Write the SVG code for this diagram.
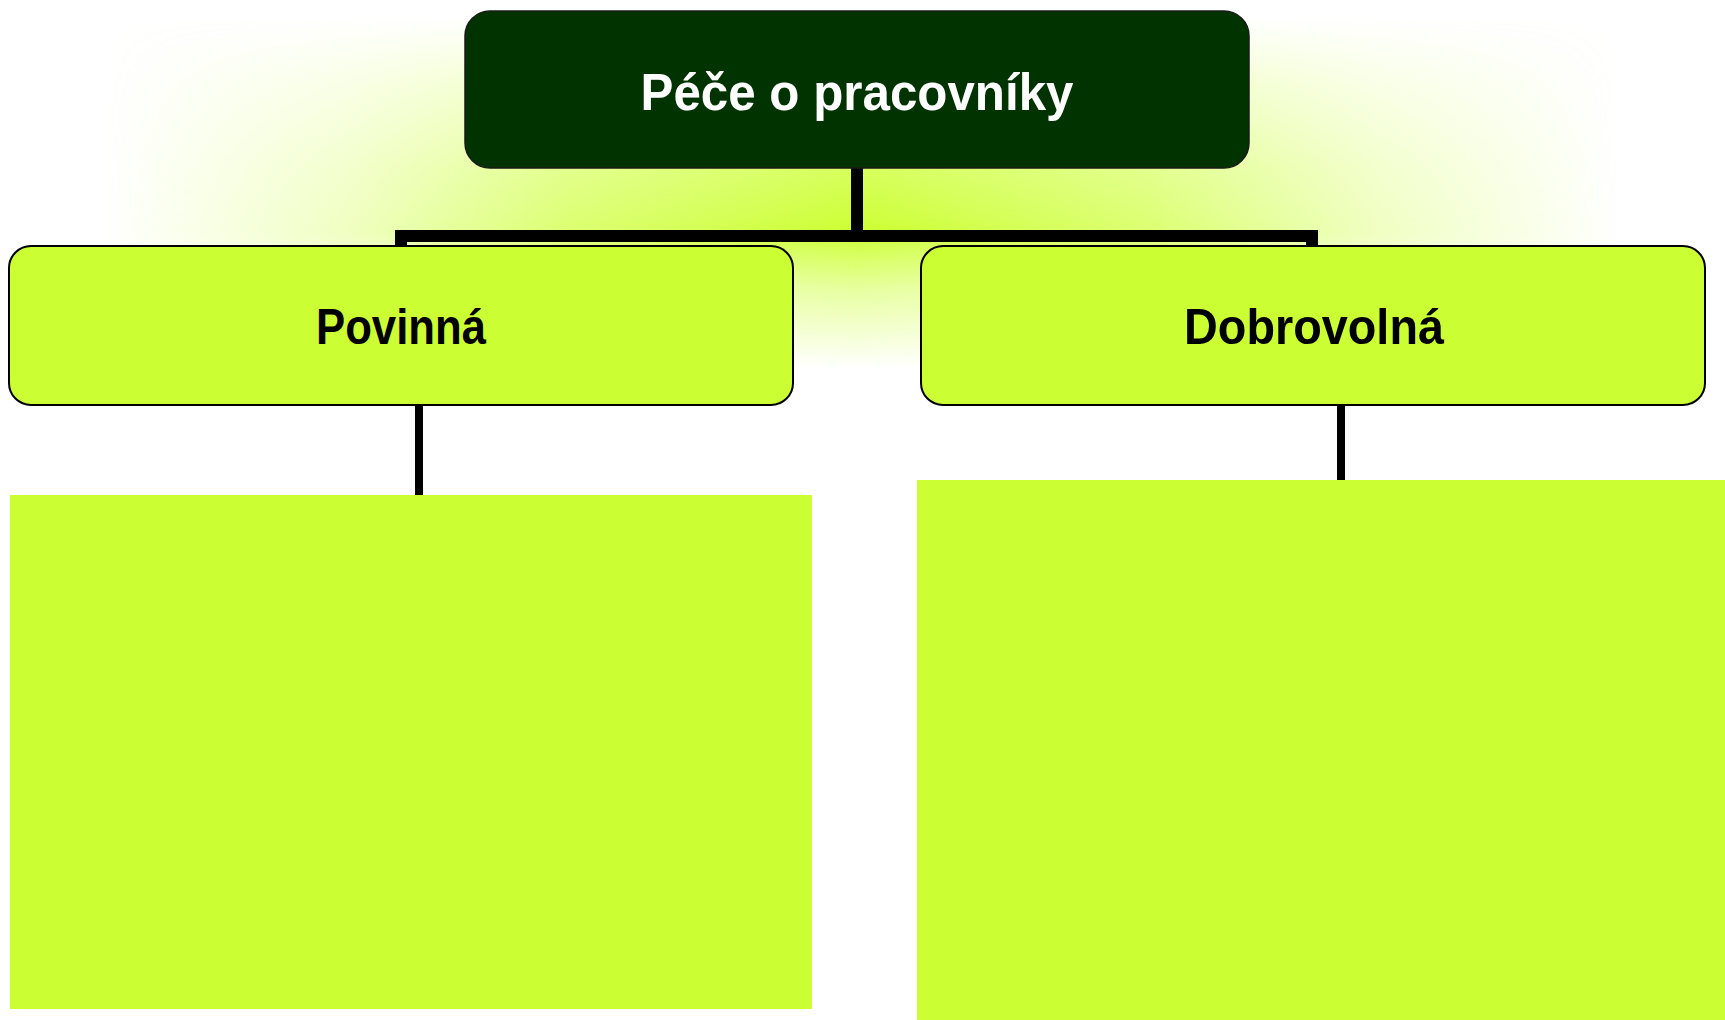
<svg xmlns="http://www.w3.org/2000/svg" width="1725" height="1020" viewBox="0 0 1725 1020">
  <defs>
    <linearGradient id="glowH" gradientUnits="userSpaceOnUse" x1="0" y1="0" x2="1725" y2="0">
      <stop offset="0.06" stop-color="#ccff33" stop-opacity="0"/>
      <stop offset="0.2" stop-color="#ccff33" stop-opacity="0.3"/>
      <stop offset="0.33" stop-color="#ccff33" stop-opacity="0.7"/>
      <stop offset="0.497" stop-color="#ccff33" stop-opacity="1"/>
      <stop offset="0.664" stop-color="#ccff33" stop-opacity="0.7"/>
      <stop offset="0.8" stop-color="#ccff33" stop-opacity="0.3"/>
      <stop offset="0.94" stop-color="#ccff33" stop-opacity="0"/>
    </linearGradient>
    <linearGradient id="glowV" gradientUnits="userSpaceOnUse" x1="0" y1="0" x2="0" y2="420">
      <stop offset="0.04" stop-color="#000000"/>
      <stop offset="0.2" stop-color="#666666"/>
      <stop offset="0.4" stop-color="#cccccc"/>
      <stop offset="0.55" stop-color="#ffffff"/>
      <stop offset="0.69" stop-color="#777777"/>
      <stop offset="0.88" stop-color="#000000"/>
    </linearGradient>
    <mask id="glowMask" maskUnits="userSpaceOnUse" x="0" y="0" width="1725" height="420">
      <rect x="0" y="0" width="1725" height="420" fill="url(#glowV)"/>
    </mask>
  </defs>
  <style>
    .lbl { font-family: "Liberation Sans", Arial, sans-serif; font-weight: bold; text-anchor: middle; }
    .child { fill: #ccff33; stroke: #000000; stroke-width: 2; }
    .list { fill: #ccff33; }
    .conn { stroke: #000000; fill: none; }
  </style>
  <rect x="0" y="0" width="1725" height="1020" fill="#ffffff"/>
  <rect x="0" y="0" width="1725" height="420" fill="url(#glowH)" mask="url(#glowMask)"/>

  <g id="connectors">
    <line class="conn" x1="857" y1="168" x2="857" y2="236" stroke-width="12"/>
    <polyline class="conn" points="401,247 401,236 1312,236 1312,247" stroke-width="12" stroke-linejoin="miter"/>
    <line class="conn" x1="419" y1="405" x2="419" y2="496" stroke-width="8"/>
    <line class="conn" x1="1341" y1="405" x2="1341" y2="481" stroke-width="8"/>
  </g>

  <g id="node-root">
    <rect x="465" y="11" width="784" height="157" rx="25" ry="25" fill="#003300" stroke="#1a1a1a" stroke-width="1.5"/>
    <text class="lbl" x="857" y="110" font-size="52" fill="#ffffff" textLength="433" lengthAdjust="spacingAndGlyphs">Péče o pracovníky</text>
  </g>

  <g id="node-povinna">
    <rect class="child" x="9" y="246" width="784" height="159" rx="22" ry="22"/>
    <text class="lbl" x="401" y="344" font-size="50" fill="#000000" textLength="170" lengthAdjust="spacingAndGlyphs">Povinná</text>
  </g>

  <g id="node-dobrovolna">
    <rect class="child" x="921" y="246" width="784" height="159" rx="22" ry="22"/>
    <text class="lbl" x="1314" y="344" font-size="50" fill="#000000" textLength="260" lengthAdjust="spacingAndGlyphs">Dobrovolná</text>
  </g>

  <g id="node-povinna-list">
    <rect class="list" x="10" y="495" width="802" height="514"/>
  </g>

  <g id="node-dobrovolna-list">
    <rect class="list" x="917" y="480" width="808" height="540"/>
  </g>
</svg>
